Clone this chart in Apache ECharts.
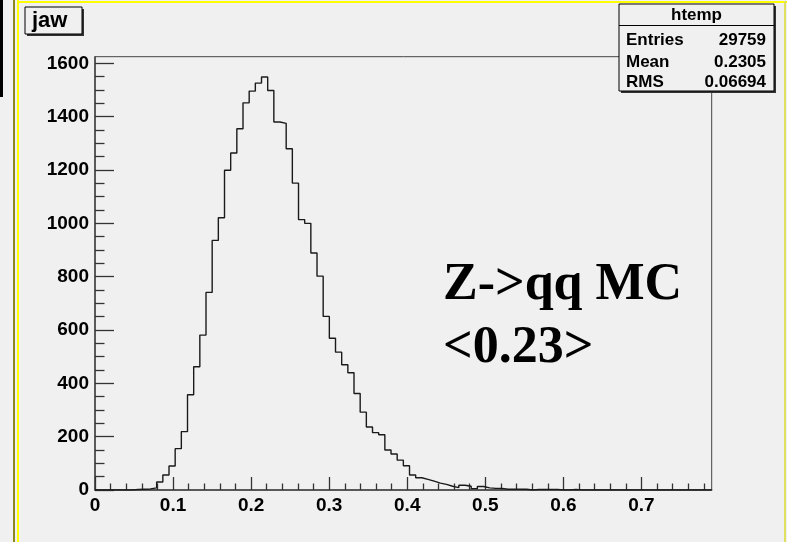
<!DOCTYPE html>
<html>
<head>
<meta charset="utf-8">
<script src="https://cdn.jsdelivr.net/npm/echarts@6/dist/echarts.min.js"></script>
<style>
html,body{margin:0;padding:0;background:#f0f0f0;}
#chart{width:787px;height:542px;}
</style>
</head>
<body>
<div id="chart"></div>
<script>
// ---- data ----
const histTitle = 'jaw';
const statsTitle = 'htemp';
const statsNames = ['Entries', 'Mean', 'RMS'];
const statsValues = ['29759', '0.2305', '0.06694'];
const noteLines = ['Z->qq MC', '<0.23>'];

const binLo = 0;
const binHi = 0.79;
const counts = [
  0, 0, 0, 0, 0, 0, 2, 3, 4, 8,
  30, 56, 90, 155, 219, 357, 462, 581, 741, 936,
  1021, 1199, 1264, 1355, 1452, 1496, 1526, 1549, 1498, 1380,
  1375, 1280, 1151, 1014, 1000, 889, 802, 651, 569, 517,
  470, 440, 362, 292, 236, 215, 207, 150, 135, 112,
  91, 56, 46, 40, 33, 26, 21, 14, 9, 18,
  14, 5, 13, 8, 6, 6, 3, 3, 3, 3,
  0, 2, 2, 2, 2, 0, 0, 2, 0, 0,
  0, 0, 0, 0, 0, 0, 0, 0, 0, 0,
  0, 0, 0, 0, 0, 0, 0, 0, 0, 0
];
const yMax = 1625;
const xMajorTicks = [0, 0.1, 0.2, 0.3, 0.4, 0.5, 0.6, 0.7];
const xMinorTicks = [0.02, 0.04, 0.06, 0.08, 0.12, 0.14, 0.16, 0.18, 0.22, 0.24, 0.26, 0.28,
  0.32, 0.34, 0.36, 0.38, 0.42, 0.44, 0.46, 0.48, 0.52, 0.54, 0.56, 0.58,
  0.62, 0.64, 0.66, 0.68, 0.72, 0.74, 0.76, 0.78];
const yMajorTicks = [0, 200, 400, 600, 800, 1000, 1200, 1400, 1600];
const yMinorTicks = [50, 100, 150, 250, 300, 350, 450, 500, 550, 650, 700, 750, 850, 900, 950,
  1050, 1100, 1150, 1250, 1300, 1350, 1450, 1500, 1550];

// ---- build step outline from bins ----
const nBins = counts.length;
const bw = (binHi - binLo) / nBins;
const stepData = [];
for (let i = 0; i < nBins; i++) stepData.push([binLo + i * bw, counts[i]]);
stepData.push([binHi, counts[nBins - 1]]);

const chart = echarts.init(document.getElementById('chart'));
const labelFont = { fontFamily: 'Liberation Sans', fontWeight: 'bold', fontSize: 19, color: '#000' };
const axisLineStyle = { color: '#444', width: 1.5 };

const statsX = 619, statsY = 4, statsW = 155, statsH = 87;
const statsFont = 'bold 17px "Liberation Sans"';
const graphics = [
  // window border decorations
  { type: 'rect', shape: { x: 0, y: 0, width: 3, height: 97 }, style: { fill: '#000' } },
  { type: 'rect', shape: { x: 13, y: 0, width: 2, height: 542 }, style: { fill: '#8a8a20' } },
  { type: 'rect', shape: { x: 17, y: 0, width: 2, height: 542 }, style: { fill: '#ffff00' } },
  { type: 'rect', shape: { x: 17, y: 1, width: 770, height: 2 }, style: { fill: '#ffff00' } },
  { type: 'rect', shape: { x: 784, y: 1, width: 2, height: 541 }, style: { fill: '#e0e060' } },
  // title box
  { type: 'rect', shape: { x: 27, y: 9, width: 57, height: 27 }, style: { fill: '#333' } },
  { type: 'rect', shape: { x: 25, y: 7, width: 57, height: 27 }, style: { fill: '#f0f0f0', stroke: '#000', lineWidth: 1 } },
  { type: 'text', x: 32, y: 21, style: { text: histTitle, font: 'bold 22px "Liberation Sans"', fill: '#000', verticalAlign: 'middle', align: 'left' } },
  // stats box
  { type: 'rect', shape: { x: statsX + 2, y: statsY + 2, width: statsW, height: statsH }, style: { fill: '#333' } },
  { type: 'rect', shape: { x: statsX, y: statsY, width: statsW, height: statsH }, style: { fill: '#f0f0f0', stroke: '#000', lineWidth: 1 } },
  { type: 'line', shape: { x1: statsX, y1: 25.5, x2: statsX + statsW, y2: 25.5 }, style: { stroke: '#000', lineWidth: 1 } },
  { type: 'text', x: statsX + statsW / 2, y: 15, style: { text: statsTitle, font: statsFont, fill: '#000', verticalAlign: 'middle', align: 'center' } }
];
const rowY = [40, 62, 82];
statsNames.forEach((n, i) => {
  graphics.push({ type: 'text', x: 626, y: rowY[i], style: { text: n, font: statsFont, fill: '#000', verticalAlign: 'middle', align: 'left' } });
  graphics.push({ type: 'text', x: 766, y: rowY[i], style: { text: statsValues[i], font: statsFont, fill: '#000', verticalAlign: 'middle', align: 'right' } });
});
const noteY = [286, 349];
noteLines.forEach((t, i) => {
  graphics.push({ type: 'text', x: 443, y: noteY[i], style: { text: t, font: 'bold 52px "Liberation Serif"', fill: '#000', verticalAlign: 'middle', align: 'left' } });
});

chart.setOption({
  animation: false,
  backgroundColor: '#f0f0f0',
  grid: { left: 95, right: 75.3, top: 56.7, bottom: 52, show: true, borderColor: '#444', borderWidth: 1, backgroundColor: 'transparent' },
  xAxis: [
    { type: 'value', min: binLo, max: binHi, position: 'bottom',
      axisLine: { show: true, lineStyle: axisLineStyle },
      axisTick: { show: true, inside: true, length: 13, lineStyle: { color: '#333', width: 1.3 }, customValues: xMajorTicks },
      axisLabel: { show: true, margin: 6, ...labelFont, customValues: xMajorTicks, formatter: v => (v === 0 ? '0' : v.toFixed(1)) },
      splitLine: { show: false } },
    { type: 'value', min: binLo, max: binHi, position: 'bottom',
      axisLine: { show: false },
      axisTick: { show: true, inside: true, length: 6.5, lineStyle: { color: '#333', width: 1.3 }, customValues: xMinorTicks },
      axisLabel: { show: false },
      splitLine: { show: false } }
  ],
  yAxis: [
    { type: 'value', min: 0, max: yMax, position: 'left',
      axisLine: { show: true, lineStyle: axisLineStyle },
      axisTick: { show: true, inside: true, length: 19, lineStyle: { color: '#333', width: 1.3 }, customValues: yMajorTicks },
      axisLabel: { show: true, margin: 6, ...labelFont, customValues: yMajorTicks, formatter: v => String(v) },
      splitLine: { show: false } },
    { type: 'value', min: 0, max: yMax, position: 'left',
      axisLine: { show: false },
      axisTick: { show: true, inside: true, length: 9.5, lineStyle: { color: '#333', width: 1.3 }, customValues: yMinorTicks },
      axisLabel: { show: false },
      splitLine: { show: false } }
  ],
  series: [{
    type: 'line', xAxisIndex: 0, yAxisIndex: 0, step: 'end', data: stepData,
    showSymbol: false, symbol: 'none',
    lineStyle: { color: '#1a1a1a', width: 1.4 }
  }],
  graphic: graphics
});
</script>
</body>
</html>
